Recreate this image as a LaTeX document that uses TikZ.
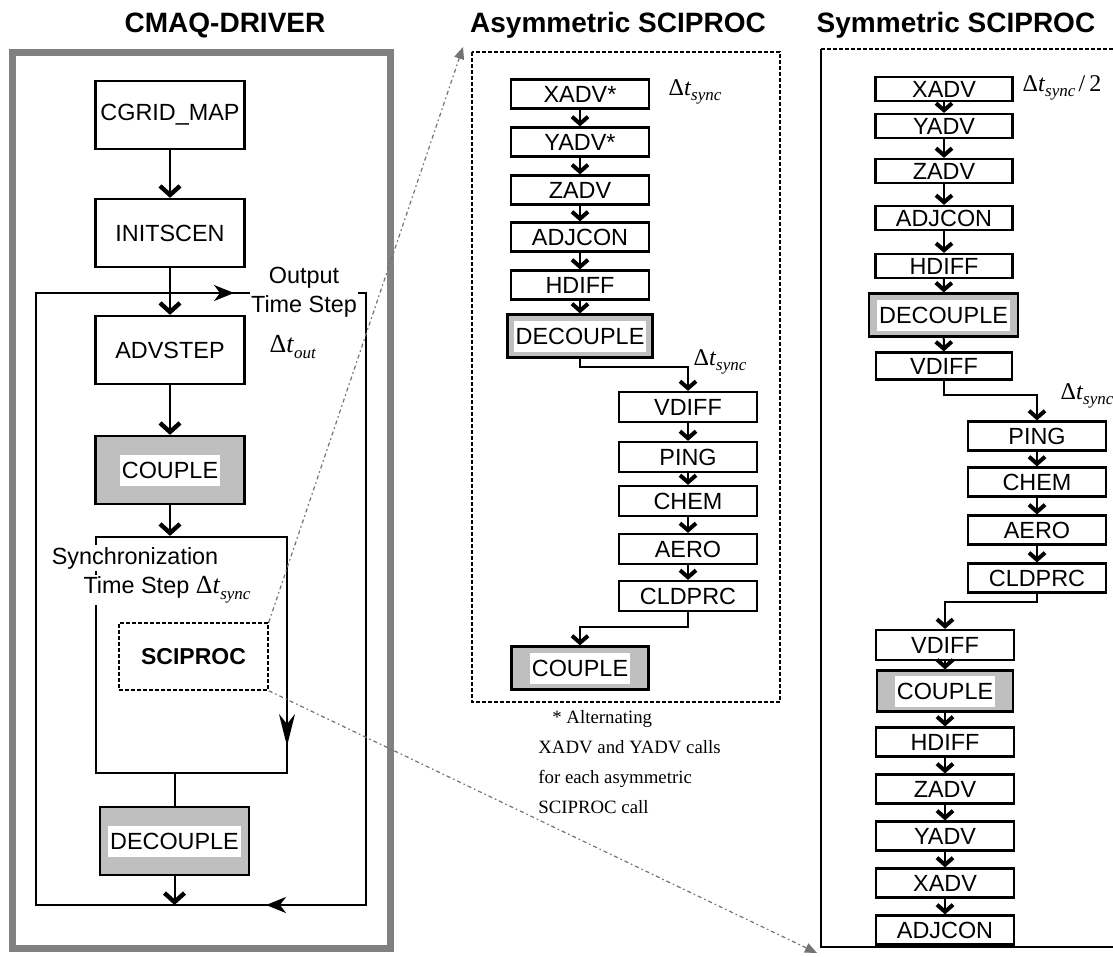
\documentclass[tikz,border=0pt]{standalone}
\usepackage{fontspec}
\setmainfont{Liberation Sans}
\newfontfamily\timesfont{Liberation Serif}
\usetikzlibrary{arrows.meta}

% Delta t with an italic index
\newcommand{\dt}[2][12]{{\timesfont\fontsize{#1}{#1}\selectfont Δ\textit{t}\raisebox{-0.5ex}{\fontsize{8.5}{8.5}\selectfont\textit{#2}}}}
% white patch behind the text of a grey box
\newcommand{\wb}[1]{{\setlength{\fboxsep}{1pt}\colorbox{white}{\rule[-2.5pt]{0pt}{13.5pt}#1}}}

\begin{document}
\begin{tikzpicture}[x=0.5pt,y=-0.5pt,
    box/.style={draw,line width=1.1pt,fill=white,inner sep=0pt,minimum width=69pt,minimum height=14.5pt,font=\fontsize{11.7}{14}\selectfont},
    bigbox/.style={box,minimum width=74.5pt,minimum height=34pt},
    grey/.style={fill=black!25},
    arr/.style={line width=1pt,-{Straight Barb[length=3.5pt,width=8pt,line width=2pt]}},
    bigarr/.style={line width=1pt,-{Straight Barb[length=4.5pt,width=10pt,line width=2.2pt]}},
    loopline/.style={line width=1.1pt},
    zoombox/.style={line width=0.8pt,dash pattern=on 2pt off 1pt},
    zoomline/.style={black!55,line width=0.6pt,dash pattern=on 2pt off 1.5pt on 0.8pt off 1.5pt,-{Triangle[length=6pt,width=5pt]}},
    title/.style={font=\bfseries\fontsize{14}{16}\selectfont}]

\useasboundingbox (0,0) rectangle (1113,957);

\node[title] (tdrv) at (225,25) {CMAQ-DRIVER};
\node[title] (tasym) at (618,25) {Asymmetric SCIPROC};
\node[title] (tsym) at (956,25) {Symmetric SCIPROC};

% CMAQ driver
\draw[line width=3.5pt,gray] (12,53) rectangle (390,948);
\coordinate (lpa) at (36,293);
\coordinate (lpc) at (366,905);
\draw[loopline] (lpa) rectangle (lpc);
\coordinate (ta1) at (190,293);
\coordinate (ta2) at (234,293);
\coordinate (ba1) at (320,905);
\coordinate (ba2) at (266,905);
\draw[loopline,-{Stealth[length=10pt,width=8pt,inset=3pt]}] (ta1) -- (ta2);
\draw[loopline,-{Stealth[length=10pt,width=8pt,inset=3pt]}] (ba1) -- (ba2);

\node[bigbox] (cgrid) at (170,115) {CGRID\_MAP};
\node[bigbox] (init) at (170,233) {INITSCEN};
\node[bigbox] (adv) at (170,350) {ADVSTEP};
\node[bigbox,grey] (lcp) at (170,470) {\wb{COUPLE}};
\node[draw,line width=1.1pt,minimum width=95.5pt,minimum height=118pt] (sync) at (191.5,655) {};
\node[bigbox,grey] (ldc) at (174.5,841) {\wb{DECOUPLE}};
\node[bigbox,zoombox,minimum height=33.5pt,font=\bfseries\fontsize{11.5}{14}\selectfont] (sci) at (193.5,656.5) {SCIPROC};

\draw[bigarr] (cgrid) -- (init);
\draw[bigarr] (init) -- (adv);
\draw[bigarr] (adv) -- (lcp);
\draw[bigarr] (lcp) -- (lcp |- sync.north);
\draw[line width=1pt] (sync.south -| ldc) -- (ldc);
\draw[bigarr] (ldc) -- (ldc |- lpc);
\coordinate (sa1) at (287,690);
\coordinate (sa2) at (287,746);
\draw[loopline,-{Stealth[length=16pt,width=8pt,inset=5pt]}] (sa1) -- (sa2);

\node[fill=white,inner sep=0.5pt,align=center,font=\fontsize{11.7}{14.5}\selectfont] (out) at (304,292) {Output\\Time Step};
\node (dto) at (293,347) {\dt[13]{out}};
\node[fill=white,inner sep=1pt,font=\fontsize{11.7}{14}\selectfont] (syn1) at (135,558) {Synchronization};
\node[fill=white,inner sep=1pt,font=\fontsize{11.7}{14}\selectfont] (syn2) at (167,590) {Time Step \dt[13]{sync}};

% asymmetric sciproc
\draw[zoombox] (472,52) rectangle (780,702);
\foreach \n/\t/\y in {ax/XADV*/94,ay/YADV*/142,az/ZADV/190,aj/ADJCON/237,ah/HDIFF/285}
  \node[box] (\n) at (580,\y) {\t};
\node[box,grey,minimum width=72.5pt,minimum height=21.5pt] (ad) at (580,336) {\wb{DECOUPLE}};
\foreach \n/\t/\y in {av/VDIFF/407,ap/PING/457,ac/CHEM/501,ae/AERO/549,al/CLDPRC/596}
  \node[box,minimum height=15pt] (\n) at (688,\y) {\t};
\node[box,grey,minimum width=68.5pt,minimum height=21.5pt] (acp) at (580,668) {\wb{COUPLE}};
\foreach \a/\b in {ax/ay,ay/az,az/aj,aj/ah,ah/ad,av/ap,ap/ac,ac/ae,ae/al}
  \draw[arr] (\a) -- (\b);
\draw[arr] (ad.south) -- ++(0,8) -| (av.north);
\draw[arr] (al.south) -- ++(0,15) -| (acp.north);
\node (adt1) at (695,92) {\dt{sync}};
\node (adt2) at (720,362) {\dt{sync}};
\node[font=\timesfont\fontsize{9.4}{15}\selectfont,align=left,anchor=north west,inner sep=0pt] (note) at (538,710)
  {\hspace*{7pt}* Alternating\\XADV and YADV calls\\for each asymmetric\\SCIPROC call};

% symmetric sciproc
\draw[zoombox] (1113,49) -- (821,49);
\draw[line width=0.8pt] (1113,947) -- (821,947) -- (821,49);
\foreach \n/\t/\y in {sx/XADV/89,sy/YADV/126,sz/ZADV/171,sj/ADJCON/218,sh/HDIFF/266}
  \node[box,minimum height=12pt,minimum width=68.5pt] (\n) at (944,\y) {\t};
\node[box,grey,minimum width=74.5pt,minimum height=21.5pt] (sd) at (943.5,315) {\wb{DECOUPLE}};
\node[box,minimum height=13.5pt,minimum width=68pt] (sv) at (944,366) {VDIFF};
\foreach \n/\t/\y in {sp/PING/436,sc/CHEM/482,se/AERO/530,sl/CLDPRC/578}
  \node[box] (\n) at (1037,\y) {\t};
\node[box,minimum height=15pt] (sv2) at (945,645) {VDIFF};
\node[box,grey,minimum width=68pt,minimum height=20.5pt] (scp) at (945,691) {\wb{COUPLE}};
\foreach \n/\t/\y in {sh2/HDIFF/742,sz2/ZADV/789,sy2/YADV/836,sx2/XADV/883,sj2/ADJCON/930}
  \node[box] (\n) at (945,\y) {\t};
\foreach \a/\b in {sx/sy,sy/sz,sz/sj,sj/sh,sh/sd,sd/sv,sp/sc,sc/se,se/sl,sv2/scp,scp/sh2,sh2/sz2,sz2/sy2,sy2/sx2,sx2/sj2}
  \draw[arr] (\a) -- (\b);
\draw[arr] (sv.south) -- ++(0,14) -| (sp.north);
\draw[arr] (sl.south) -- ++(0,8) -| (sv2.north);
\node (sdt1) at (1062,88) {\dt{sync}\,{\timesfont\fontsize{12}{12}\selectfont/\,2}};
\node (sdt2) at (1087,396) {\dt{sync}};

% zoom lines
\coordinate (za) at (463,47);
\coordinate (zs) at (817,953);
\draw[zoomline] (sci.north east) -- (za);
\draw[zoomline] (sci.south east) -- (zs);
\end{tikzpicture}
\end{document}
